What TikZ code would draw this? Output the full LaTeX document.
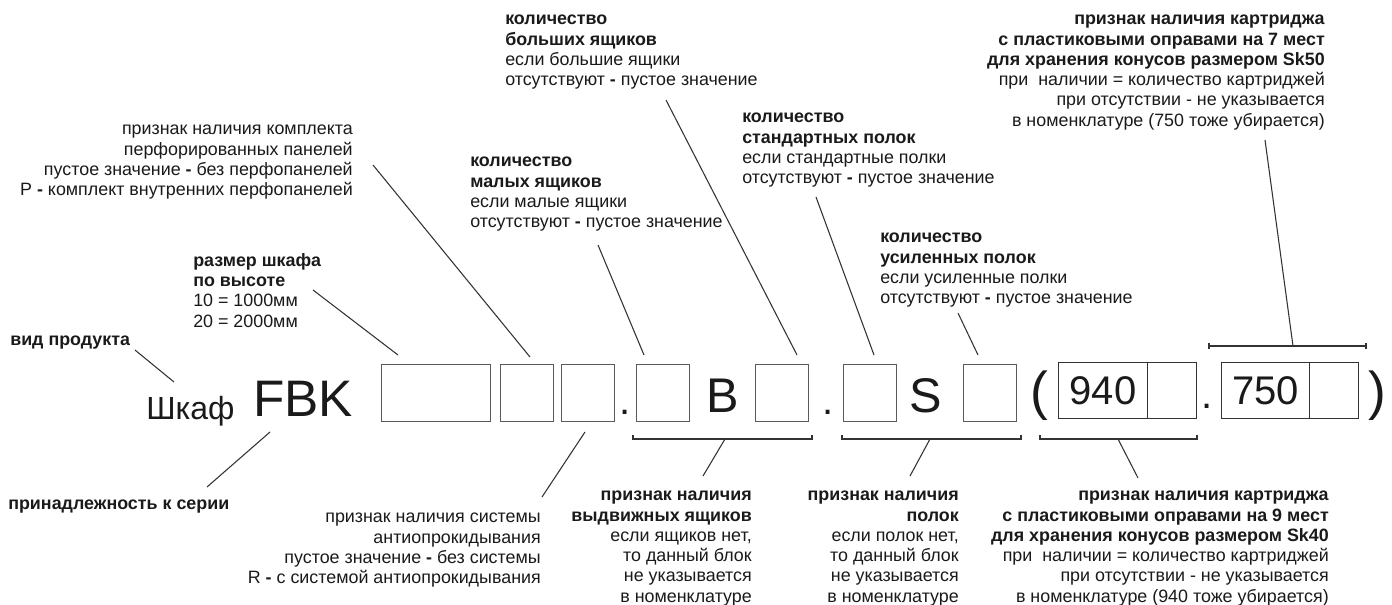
\documentclass[tikz,border=0pt]{standalone}
\usepackage{fontspec}
\setmainfont{Liberation Sans}
\definecolor{ink}{HTML}{1A1A1A}
\definecolor{linec}{HTML}{333333}
\definecolor{boxc}{HTML}{5A5A5A}
\begin{document}
\begin{tikzpicture}[x=0.75pt,y=-0.75pt,
  txt/.style={inner sep=0pt,text=ink,font=\fontsize{13.4}{15.2}\selectfont},
  labl/.style={txt,align=left,anchor=north west},
  labr/.style={txt,align=right,anchor=north east},
  cell/.style={draw=boxc,line width=0.9pt,inner sep=0pt,anchor=north west,minimum height=42.75pt},
  wcell/.style={cell,draw=linec,minimum height=42pt,text=ink,font=\fontsize{30}{30}\selectfont},
  bigtxt/.style={inner sep=0pt,text=ink},
  lead/.style={draw=linec,line width=0.8pt},
  brk/.style={draw=linec,line width=0.9pt}]
\useasboundingbox (0,0) rectangle (1392,604);
\fill[white] (0,0) rectangle (1392,604);

% ---- code row ----
\node[bigtxt,anchor=base west,font=\fontsize{24}{24}\selectfont] (shkaf) at (146,419) {Шкаф};
\node[bigtxt,anchor=base west,font=\fontsize{38.5}{40}\selectfont] (fbk) at (253,416) {FBK};
\node[cell,minimum width=81.75pt] (b1) at (381,364) {};
\node[cell,minimum width=39.75pt] (b2) at (500,364) {};
\node[cell,minimum width=39.75pt] (b3) at (561,364) {};
\node[bigtxt,anchor=base,font=\fontsize{30}{30}\selectfont] (d1) at (625,414) {.};
\node[cell,minimum width=39.75pt] (b4) at (636,364) {};
\node[bigtxt,anchor=base,font=\fontsize{36.5}{38}\selectfont] (lb) at (723,412) {B};
\node[cell,minimum width=39.75pt] (b5) at (755,364) {};
\node[bigtxt,anchor=base,font=\fontsize{30}{30}\selectfont] (d2) at (828,414) {.};
\node[cell,minimum width=39.75pt] (b6) at (843,364) {};
\node[bigtxt,anchor=base,font=\fontsize{36.5}{38}\selectfont] (ls) at (926,412) {S};
\node[cell,minimum width=39.75pt] (b7) at (963,364) {};
\node[bigtxt,anchor=base,font=\fontsize{40}{40}\selectfont] (lp) at (1039,409) {(};
\node[wcell,minimum width=66.75pt] (c940) at (1058,362) {940};
\node[wcell,minimum width=36.75pt] (c940b) at (1147,362) {};
\node[bigtxt,anchor=base,font=\fontsize{30}{30}\selectfont] (d3) at (1207,408) {.};
\node[wcell,minimum width=66pt] (c750) at (1221,362) {750};
\node[wcell,minimum width=36.75pt] (c750b) at (1309,362) {};
\node[bigtxt,anchor=base,font=\fontsize{40}{40}\selectfont] (rp) at (1377,409) {)};

% ---- brackets ----
\draw[brk] (633,435) -- (633,439) -- (812,439) -- (812,435);
\draw[brk] (842,435) -- (842,439) -- (1021,439) -- (1021,435);
\draw[brk] (1040,435) -- (1040,439) -- (1197,439) -- (1197,435);
\draw[brk] (1209,343) -- (1209,349) (1209,346) -- (1366,346) (1366,343) -- (1366,349);

% ---- labels above ----
\node[labl,font=\fontsize{13.4}{15.2}\bfseries] (vid) at (10,336) {вид продукта};
\node[labl] (razm) at (193,253) {\textbf{размер шкафа}\\\textbf{по высоте}\\10 = 1000мм\\20 = 2000мм};
\node[labr] (perf) at (353,125) {признак наличия комплекта\\перфорированных панелей\\пустое значение \textbf{-} без перфопанелей\\Р \textbf{-} комплект внутренних перфопанелей};
\node[labl] (mal) at (470,157) {\textbf{количество}\\\textbf{малых ящиков}\\если малые ящики\\отсутствуют \textbf{-} пустое значение};
\node[labl] (bol) at (505,15) {\textbf{количество}\\\textbf{больших ящиков}\\если большие ящики\\отсутствуют \textbf{-} пустое значение};
\node[labl] (std) at (742,113) {\textbf{количество}\\\textbf{стандартных полок}\\если стандартные полки\\отсутствуют \textbf{-} пустое значение};
\node[labl] (usil) at (880,233) {\textbf{количество}\\\textbf{усиленных полок}\\если усиленные полки\\отсутствуют \textbf{-} пустое значение};
\node[labr] (sk50) at (1325,15) {\textbf{признак наличия картриджа}\\\textbf{с пластиковыми оправами на 7 мест}\\\textbf{для хранения конусов размером Sk50}\\при\ \ наличии = количество картриджей\\при отсутствии - не указывается\\в номенклатуре (750 тоже убирается)};

% ---- labels below ----
\node[labl,font=\fontsize{13.4}{15.2}\bfseries] (ser) at (8,500) {принадлежность к серии};
\node[labr] (anti) at (541,513) {признак наличия системы\\антиопрокидывания\\пустое значение \textbf{-} без системы\\R \textbf{-} с системой антиопрокидывания};
\node[labr] (vyd) at (752,491) {\textbf{признак наличия}\\\textbf{выдвижных ящиков}\\если ящиков нет,\\то данный блок\\не указывается\\в номенклатуре};
\node[labr] (pol) at (959,491) {\textbf{признак наличия}\\\textbf{полок}\\если полок нет,\\то данный блок\\не указывается\\в номенклатуре};
\node[labr] (sk40) at (1329,491) {\textbf{признак наличия картриджа}\\\textbf{с пластиковыми оправами на 9 мест}\\\textbf{для хранения конусов размером Sk40}\\при\ \ наличии = количество картриджей\\при отсутствии - не указывается\\в номенклатуре (940 тоже убирается)};

% ---- leader end points ----
\coordinate (vidA) at (135,350);   \coordinate (vidB) at (174,382);
\coordinate (fbkA) at (270,432);   \coordinate (fbkB) at (207,487);
\coordinate (razA) at (313,290);   \coordinate (razB) at (398,355);
\coordinate (perA) at (373,165);   \coordinate (perB) at (530,357);
\coordinate (malA) at (598,245);   \coordinate (malB) at (644,355);
\coordinate (bolA) at (666,100);   \coordinate (bolB) at (797,355);
\coordinate (stdA) at (816,197);   \coordinate (stdB) at (874,355);
\coordinate (usA)  at (958,313);   \coordinate (usB)  at (978,355);
\coordinate (s50A) at (1265,140);  \coordinate (s50B) at (1293,346);
\coordinate (antA) at (585,432);   \coordinate (antB) at (542,497);
\coordinate (vydA) at (725,439);   \coordinate (vydB) at (703,476);
\coordinate (polA) at (930,439);   \coordinate (polB) at (910,476);
\coordinate (s40A) at (1118,439);  \coordinate (s40B) at (1138,478);

\draw[lead] (vidA) -- (vidB);
\draw[lead] (fbkA) -- (fbkB);
\draw[lead] (razA) -- (razB);
\draw[lead] (perA) -- (perB);
\draw[lead] (malA) -- (malB);
\draw[lead] (bolA) -- (bolB);
\draw[lead] (stdA) -- (stdB);
\draw[lead] (usA) -- (usB);
\draw[lead] (s50A) -- (s50B);
\draw[lead] (antA) -- (antB);
\draw[lead] (vydA) -- (vydB);
\draw[lead] (polA) -- (polB);
\draw[lead] (s40A) -- (s40B);
\end{tikzpicture}
\end{document}
